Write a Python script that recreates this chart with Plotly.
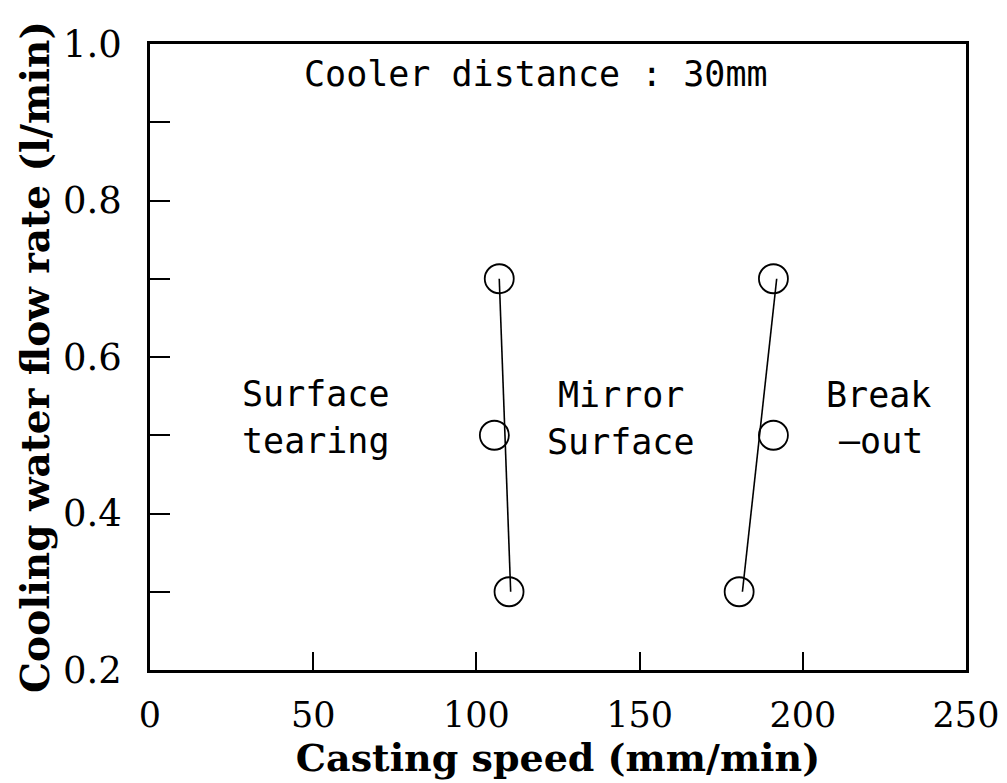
import plotly.graph_objects as go

# Data
left_speed = [107, 105.5, 110]
left_flow = [0.7, 0.5, 0.3]
left_line_speed = [107, 110.5]
left_line_flow = [0.7, 0.3]

right_speed = [191, 191, 180.5]
right_flow = [0.7, 0.5, 0.3]
right_line_speed = [192, 181.5]
right_line_flow = [0.7, 0.3]

x_ticks = [0, 50, 100, 150, 200, 250]
y_ticks = [0.2, 0.3, 0.4, 0.5, 0.6, 0.7, 0.8, 0.9, 1.0]
y_tick_labels = ["0.2", "", "0.4", "", "0.6", "", "0.8", "", "1.0"]

SERIF = "DejaVu Serif"
MONO = "DejaVu Sans Mono"

fig = go.Figure()

for xs, ys in [(left_line_speed, left_line_flow), (right_line_speed, right_line_flow)]:
    fig.add_trace(go.Scatter(x=xs, y=ys, mode="lines",
                             line=dict(color="black", width=1.6),
                             showlegend=False, hoverinfo="skip"))

for xs, ys in [(left_speed, left_flow), (right_speed, right_flow)]:
    fig.add_trace(go.Scatter(x=xs, y=ys, mode="markers",
                             marker=dict(symbol="circle-open", size=29,
                                         color="black", line=dict(width=1.8, color="black")),
                             showlegend=False))

ann_font = dict(family=MONO, size=35, color="black")
annotations = [
    ("Cooler distance : 30mm", 118.4, 0.962, "center", "center"),
    ("Surface", 27.6, 0.553, "left", "left"),
    ("tearing", 27.6, 0.493, "left", "left"),
    ("Mirror", 144.2, 0.551, "center", "center"),
    ("Surface", 144.2, 0.491, "center", "center"),
    ("Break", 223.3, 0.551, "center", "center"),
    ("\u2014out", 224.0, 0.493, "center", "center"),
]
for text, x, y, xa, al in annotations:
    fig.add_annotation(x=x, y=y, xref="x", yref="y", text=text, showarrow=False,
                       xanchor=xa, yanchor="middle", align=al, font=ann_font)

fig.update_xaxes(
    range=[0, 250], tickmode="array", tickvals=x_ticks,
    ticktext=[str(v) for v in x_ticks],
    ticks="inside", ticklen=18, tickwidth=2, tickcolor="black",
    showline=True, linecolor="black", linewidth=2.5, mirror=True,
    showgrid=False, zeroline=False,
    ticklabelstandoff=12,
    tickfont=dict(family=SERIF, size=35, color="black"),
    title=dict(text="<b>Casting speed (mm/min)</b>",
               font=dict(family=SERIF, size=38, color="black"), standoff=2),
)
fig.update_yaxes(
    range=[0.2, 1.0], tickmode="array",
    tickvals=y_ticks, ticktext=y_tick_labels,
    ticks="inside", ticklen=20, tickwidth=2, tickcolor="black",
    showline=True, linecolor="black", linewidth=2.5, mirror=True,
    showgrid=False, zeroline=False,
    ticklabelstandoff=18,
    tickfont=dict(family=SERIF, size=37, color="black"),
    title=dict(text="<b>Cooling water flow rate (l/min)</b>",
               font=dict(family=SERIF, size=39, color="black"), standoff=2),
)

fig.update_layout(
    width=1007, height=783,
    margin=dict(l=150, r=41, t=44, b=113, autoexpand=False),
    plot_bgcolor="white", paper_bgcolor="white",
    showlegend=False,
)

fig.write_html("out.html")
